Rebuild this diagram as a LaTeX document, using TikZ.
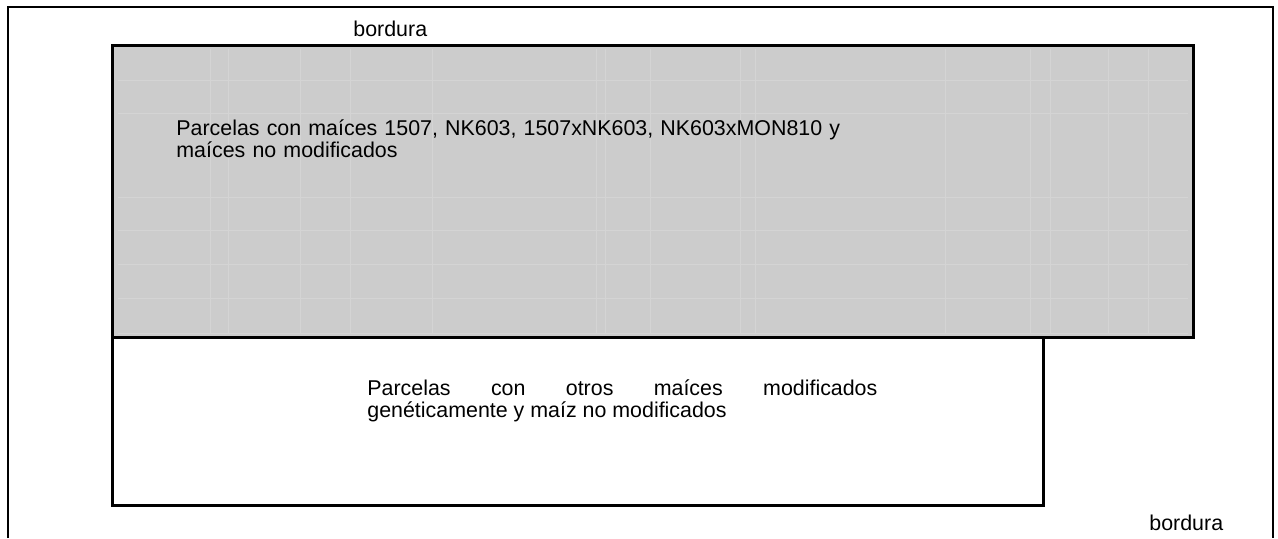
\documentclass[tikz,border=0pt]{standalone}
\usepackage{fontspec}
\setmainfont{Liberation Sans}
\definecolor{parcelgray}{HTML}{CCCCCC}
\definecolor{gridgray}{HTML}{D4D4D4}
\tikzset{
  label/.style={inner sep=0pt, anchor=base west, font=\fontsize{10.7}{11}\selectfont},
  plot/.style={line width=1.5pt},
}
\begin{document}
\begin{tikzpicture}[x=0.5pt, y=-0.5pt]
      \useasboundingbox (0,0) rectangle (1278,538);
      % field border
      \draw[line width=1pt] (8,538) -- (8,6.5) -- (1272.5,6.5) -- (1272.5,538);
      % plots with 1507, NK603 ...
      \fill[parcelgray] (112,45) rectangle (1193.5,337);
      \begin{scope}[gridgray, line width=0.5pt]
        \foreach \y in {80,113,197,230,264,298,333}
          \draw (118,\y) -- (1188,\y);
        \foreach \x in {210,228,300,350,432,596,605,650,740,755,945,1030,1050,1108,1148}
          \draw (\x,49) -- (\x,333);
      \end{scope}
      \draw[plot] (112,45) rectangle (1193.5,337);
      % other plots
      \draw[plot] (112,337) rectangle (1043.5,505);
      \draw
        (353,36) node[label] (bordtop) {bordura}
        (1149,530) node[label] (bordbot) {bordura}
        (176,135) node[label, text width=340pt, align=left] (gmplots)
          {Parcelas con maíces 1507, NK603, 1507xNK603, NK603xMON810 y\\maíces no modificados}
        (367,395) node[label, text width=255pt, align=justify] (otherplots)
          {Parcelas con otros maíces modificados\linebreak genéticamente y maíz no modificados};
    \end{tikzpicture}
\end{document}
